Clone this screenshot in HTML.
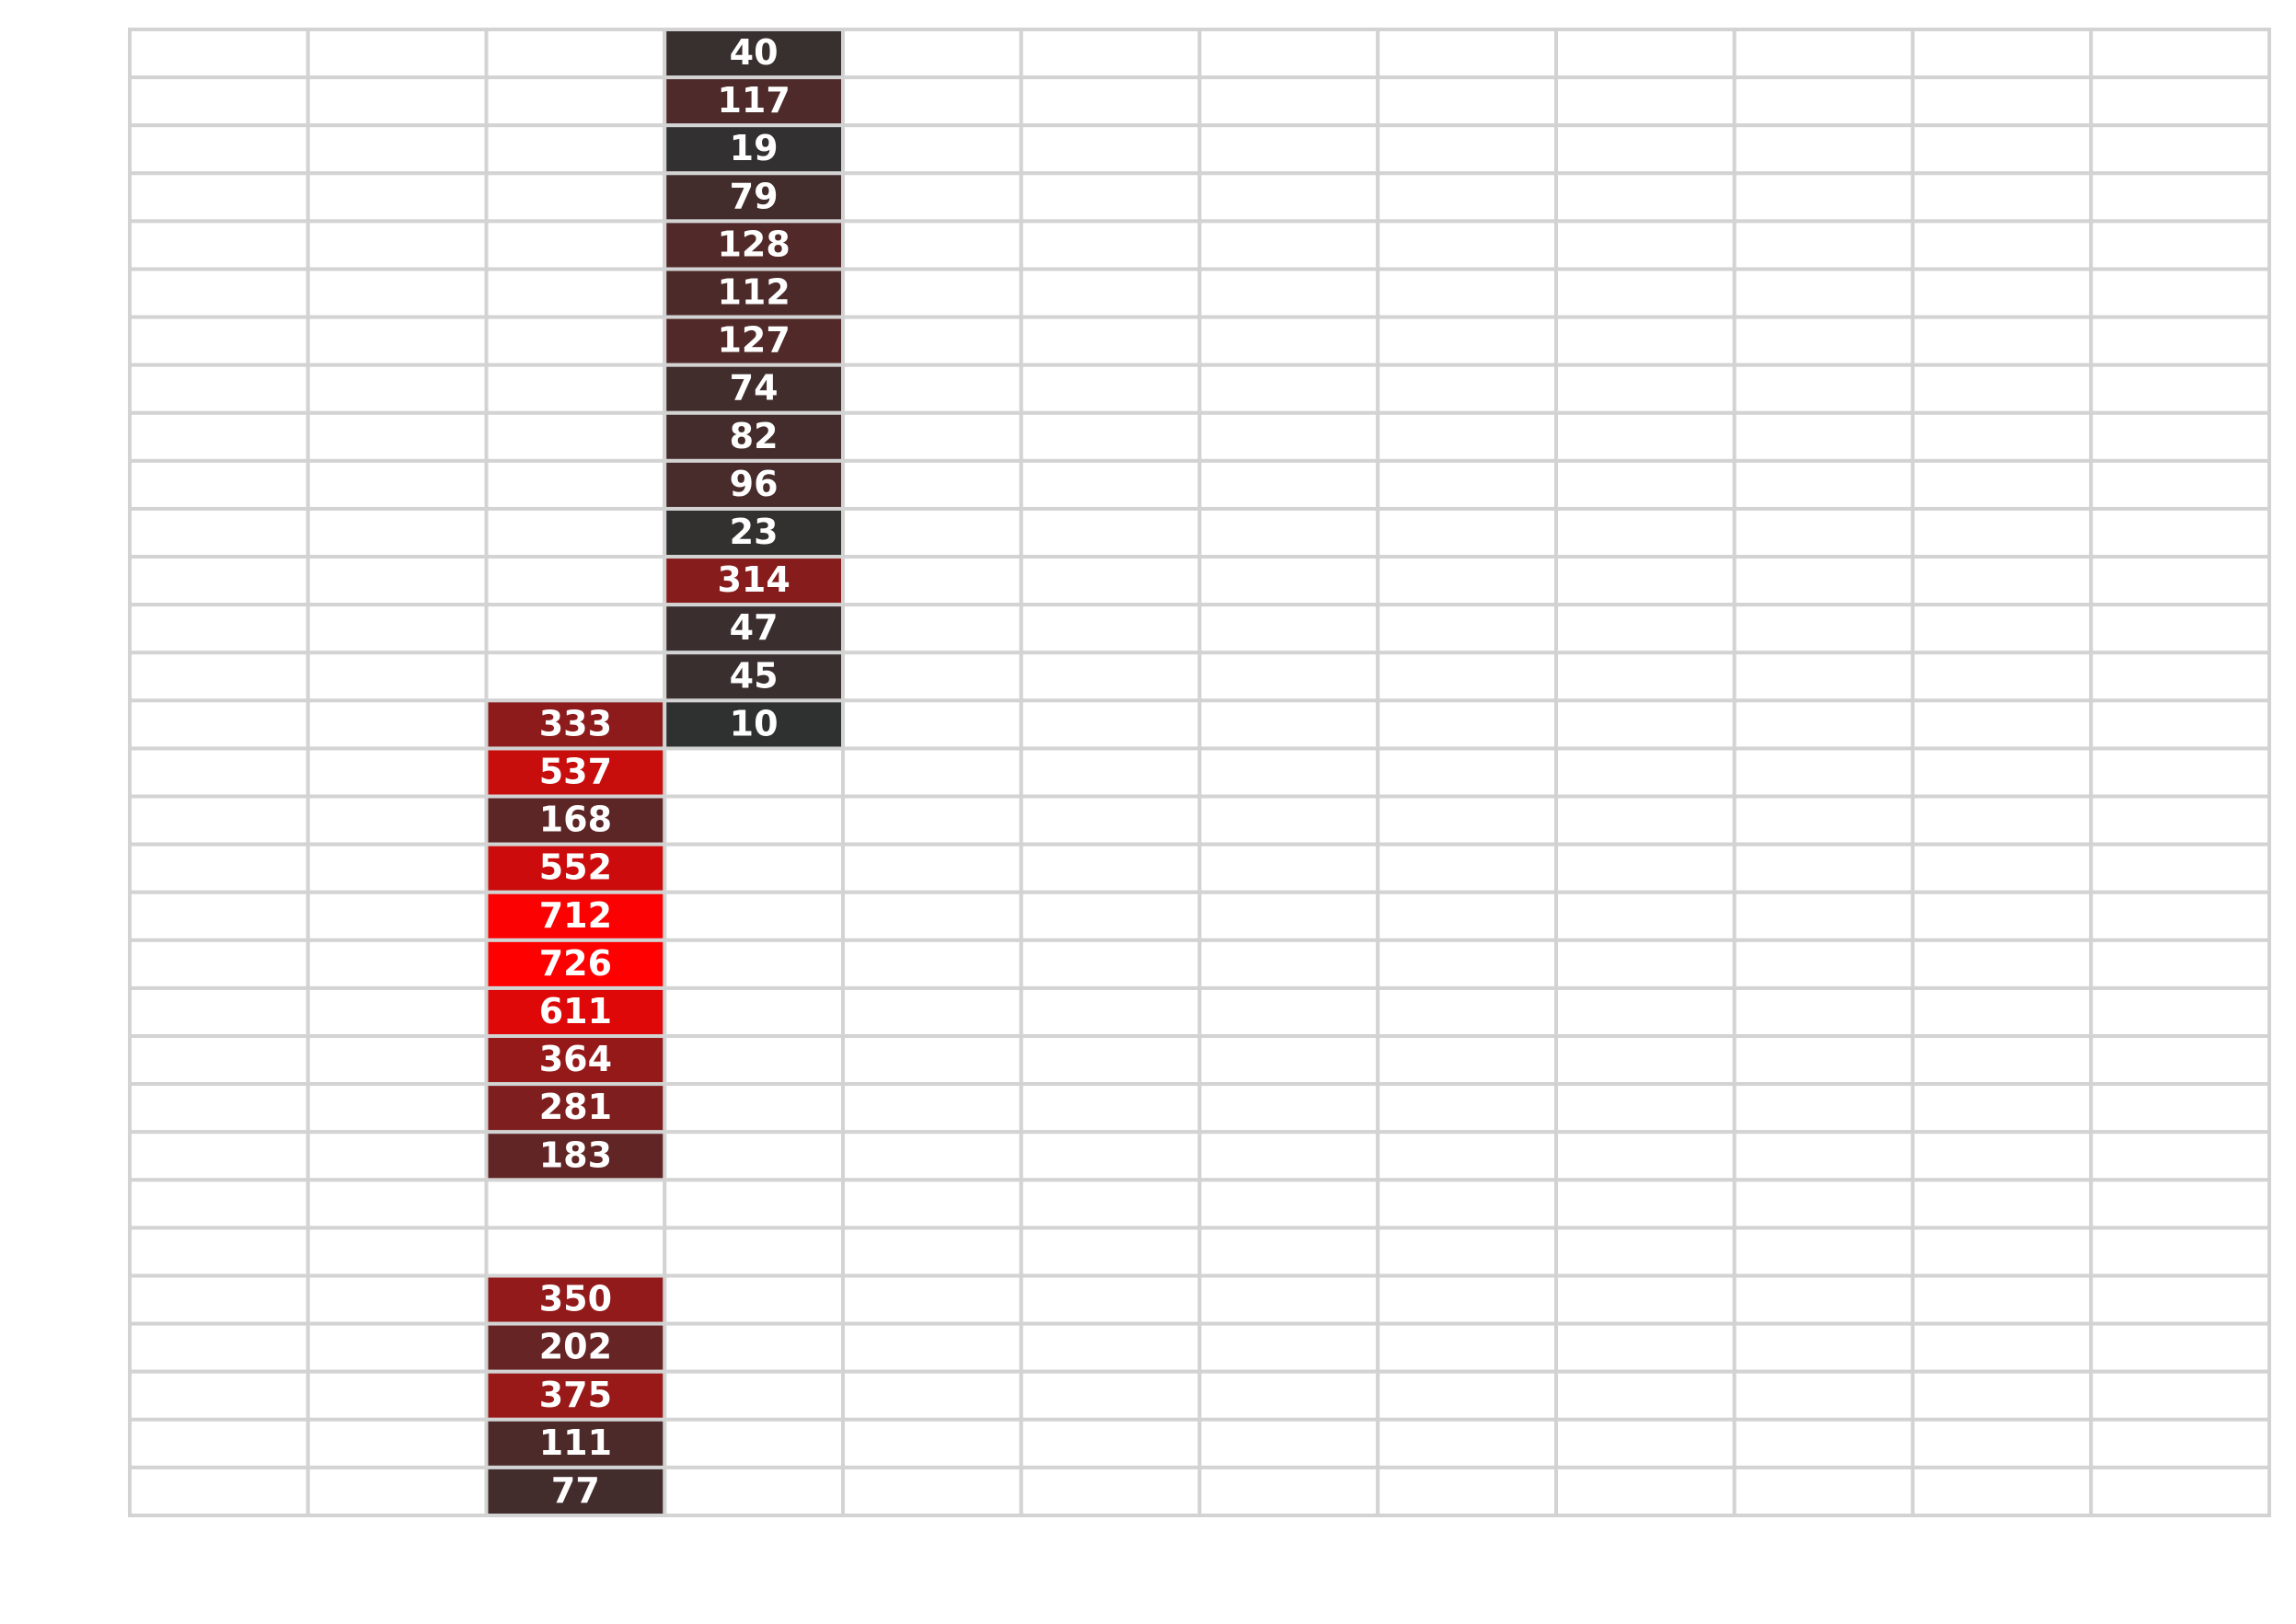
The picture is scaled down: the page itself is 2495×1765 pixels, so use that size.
<!DOCTYPE html>
<html><head><meta charset="utf-8"><style>html,body{margin:0;padding:0;background:#fff}svg{display:block}</style></head>
<body>
<svg id="chart" width="2495" height="1765" xmlns="http://www.w3.org/2000/svg"></svg>
<script>
const nCols = 12;
const nRows = 31;
const colA = 2;
const colARows = [14,15,16,17,18,19,20,21,22,23,26,27,28,29,30];
const colAValues = [333,537,168,552,712,726,611,364,281,183,350,202,375,111,77];
const colB = 3;
const colBRows = [0,1,2,3,4,5,6,7,8,9,10,11,12,13,14];
const colBValues = [40,117,19,79,128,112,127,74,82,96,23,314,47,45,10];

const svg = document.getElementById('chart');
const NS = 'http://www.w3.org/2000/svg';
const x0 = 141, x1 = 2466, y0 = 32, y1 = 1647;
const cw = (x1 - x0) / nCols, ch = (y1 - y0) / nRows;
const xs = c => x0 + c * cw;
const ys = r => y0 + r * ch;
const vmin = 10, vmax = 726;
function color(v) {
  const t = Math.max(0, Math.min(1, (v - vmin) / (vmax - vmin)));
  const r = Math.round(47 + t * (255 - 47));
  const g = Math.round(49 * (1 - t));
  const b = Math.round(49 * (1 - t));
  return `rgb(${r},${g},${b})`;
}
for (let r = 0; r < nRows; r++) {
  for (let c = 0; c < nCols; c++) {
    const rect = document.createElementNS(NS, 'rect');
    rect.setAttribute('x', xs(c)); rect.setAttribute('y', ys(r));
    rect.setAttribute('width', cw); rect.setAttribute('height', ch);
    rect.setAttribute('fill', '#fff'); rect.setAttribute('stroke', '#d3d3d3'); rect.setAttribute('stroke-width', 4);
    
    
    svg.appendChild(rect);
  }
}
function drawCol(col, rows, vals) {
  rows.forEach((r, i) => {
    const v = vals[i];
    const rect = document.createElementNS(NS, 'rect');
    rect.setAttribute('x', xs(col)); rect.setAttribute('y', ys(r));
    rect.setAttribute('width', cw); rect.setAttribute('height', ch);
    rect.setAttribute('fill', color(v)); rect.setAttribute('stroke', '#d3d3d3'); rect.setAttribute('stroke-width', 4);
    
    
    svg.appendChild(rect);
    const t = document.createElementNS(NS, 'text');
    t.setAttribute('x', xs(col) + cw / 2); t.setAttribute('y', ys(r) + ch / 2 + 12);
    t.setAttribute('text-anchor', 'middle'); t.setAttribute('fill', '#fff');
    t.setAttribute('font-family', 'DejaVu Sans, Liberation Sans, sans-serif');
    t.setAttribute('font-weight', 'bold'); t.setAttribute('font-size', '38');
    t.textContent = v;
    
    
    svg.appendChild(t);
  });
}
drawCol(colA, colARows, colAValues);
drawCol(colB, colBRows, colBValues);
</script>
</body></html>
